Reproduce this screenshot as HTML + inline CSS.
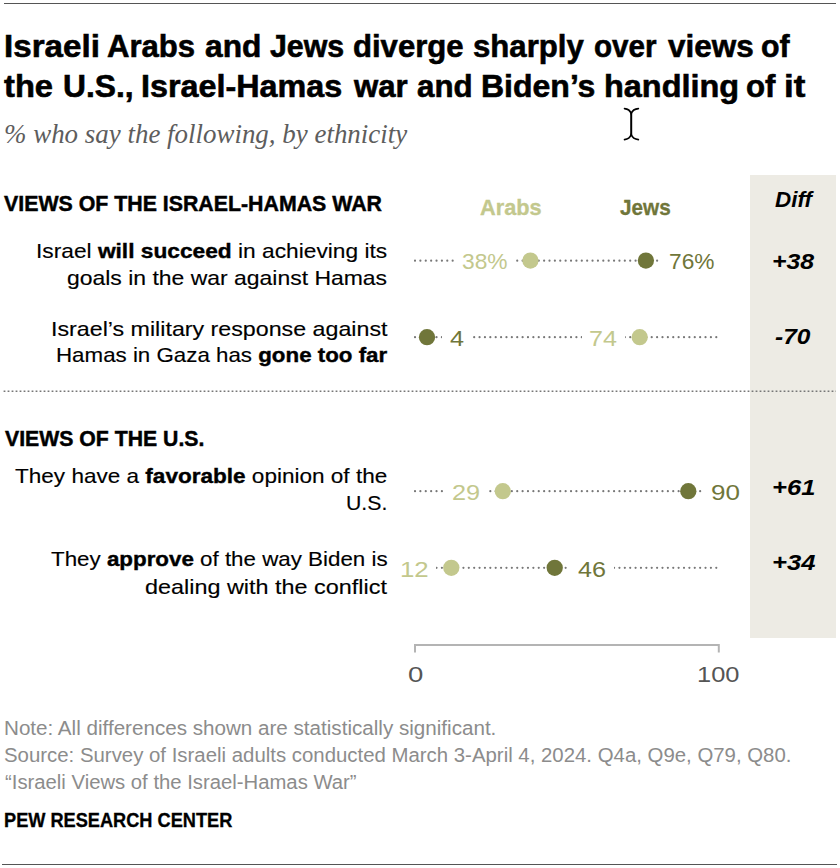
<!DOCTYPE html>
<html>
<head>
<meta charset="utf-8">
<title>Israeli Arabs and Jews diverge sharply</title>
<style>
html,body{margin:0;padding:0;background:#fff;}
body{width:840px;height:868px;position:relative;overflow:hidden;font-family:"Liberation Sans",sans-serif;color:#000;}
.t{position:absolute;white-space:nowrap;line-height:1;transform-origin:0 0;}
.rule{position:absolute;height:1px;background:#555;}
.title{font-weight:bold;-webkit-text-stroke:0.6px #000;}
.sub{font-family:"Liberation Serif",serif;font-style:italic;color:#5d5d5d;}
.sec{font-weight:bold;-webkit-text-stroke:0.45px #000;}
.diff{font-weight:bold;font-style:italic;}
.panel{position:absolute;left:750px;top:175px;width:86px;height:463px;background:#edebe4;}
.note{color:#8c8c8c;}
.pew{font-weight:bold;-webkit-text-stroke:0.3px #000;}
.lab b{-webkit-text-stroke:0.4px #000;}
.lab{-webkit-text-stroke:0.15px #000;}
.ax{color:#555;}
.hd{font-weight:bold;-webkit-text-stroke:0.3px currentColor;}
.ar{color:#c3c88d;}
.jw{color:#70763a;}
.bg{position:absolute;background:#fff;}
svg{position:absolute;left:0;top:0;}
</style>
</head>
<body>
<div class="rule" style="top:3px;left:4px;width:832.4px"></div>
<div class="rule" style="top:864px;left:2px;width:835px"></div>
<div class="panel"></div>
<svg width="840" height="868" viewBox="0 0 840 868">
  <line x1="3.6" y1="391.2" x2="836" y2="391.2" stroke="#777" stroke-width="1.6" stroke-dasharray="1.8 2.2"/>
  <g stroke="#787878" stroke-width="2.2" stroke-linecap="round" stroke-dasharray="0.01 5.37">
    <line x1="415" y1="260.7" x2="719" y2="260.7"/>
    <line x1="415" y1="337.2" x2="719" y2="337.2"/>
    <line x1="415" y1="491.2" x2="719" y2="491.2"/>
    <line x1="415" y1="567.8" x2="719" y2="567.8"/>
  </g>
  <path d="M415 652.5V645H718.8V652.5" fill="none" stroke="#b4b4b4" stroke-width="2"/>
</svg>
<div class="bg" style="left:456.0px;top:253.7px;width:58.0px;height:14px"></div>
<div class="bg" style="left:660.0px;top:253.7px;width:62.0px;height:14px"></div>
<div class="bg" style="left:442.3px;top:330.2px;width:29.7px;height:14px"></div>
<div class="bg" style="left:582.0px;top:330.2px;width:42.5px;height:14px"></div>
<div class="bg" style="left:445.0px;top:484.2px;width:42.5px;height:14px"></div>
<div class="bg" style="left:703.0px;top:484.2px;width:42.0px;height:14px"></div>
<div class="bg" style="left:395.0px;top:560.8px;width:41.3px;height:14px"></div>
<div class="bg" style="left:569.0px;top:560.8px;width:45.0px;height:14px"></div>
<svg width="840" height="868" viewBox="0 0 840 868">
  <circle cx="530.4" cy="260.6" r="8.15" fill="#c3c88d"/>
  <circle cx="645.9" cy="260.6" r="8.15" fill="#70763a"/>
  <circle cx="427.0" cy="337.2" r="8.15" fill="#70763a"/>
  <circle cx="639.7" cy="337.2" r="8.15" fill="#c3c88d"/>
  <circle cx="502.8" cy="491.2" r="8.15" fill="#c3c88d"/>
  <circle cx="688.3" cy="491.2" r="8.15" fill="#70763a"/>
  <circle cx="451.3" cy="567.8" r="8.15" fill="#c3c88d"/>
  <circle cx="554.7" cy="567.8" r="8.15" fill="#70763a"/>
</svg>
<div class="t title" id="t1w0" style="left:3.95px;top:29.81px;font-size:32px;transform:scaleX(1.0363);">Israeli</div>
<div class="t title" id="t1w1" style="left:107.01px;top:29.81px;font-size:32px;transform:scaleX(0.9720);">Arabs</div>
<div class="t title" id="t1w2" style="left:205.00px;top:29.82px;font-size:32px;transform:scaleX(0.9910);">and</div>
<div class="t title" id="t1w3" style="left:270.00px;top:29.81px;font-size:32px;transform:scaleX(0.9481);">Jews</div>
<div class="t title" id="t1w4" style="left:353.02px;top:29.81px;font-size:32px;transform:scaleX(0.9713);">diverge</div>
<div class="t title" id="t1w5" style="left:473.01px;top:29.81px;font-size:32px;transform:scaleX(0.9738);">sharply</div>
<div class="t title" id="t1w6" style="left:594.07px;top:29.81px;font-size:32px;transform:scaleX(0.9254);">over</div>
<div class="t title" id="t1w7" style="left:667.99px;top:29.80px;font-size:32px;transform:scaleX(0.9829);">views</div>
<div class="t title" id="t1w8" style="left:761.04px;top:29.81px;font-size:32px;transform:scaleX(0.9468);">of</div>
<div class="t title" id="t2w0" style="left:4.00px;top:69.81px;font-size:32px;transform:scaleX(1.0213);">the</div>
<div class="t title" id="t2w1" style="left:63.01px;top:69.81px;font-size:32px;transform:scaleX(0.9927);">U.S.,</div>
<div class="t title" id="t2w2" style="left:140.98px;top:69.82px;font-size:32px;transform:scaleX(1.0102);">Israel-Hamas</div>
<div class="t title" id="t2w3" style="left:353.97px;top:69.81px;font-size:32px;transform:scaleX(0.9733);">war</div>
<div class="t title" id="t2w4" style="left:417.00px;top:69.81px;font-size:32px;transform:scaleX(0.9774);">and</div>
<div class="t title" id="t2w5" style="left:481.00px;top:69.81px;font-size:32px;">Biden’s</div>
<div class="t title" id="t2w6" style="left:603.98px;top:69.82px;font-size:32px;transform:scaleX(1.0135);">handling</div>
<div class="t title" id="t2w7" style="left:745.99px;top:69.81px;font-size:32px;transform:scaleX(0.9755);">of</div>
<div class="t title" id="t2w8" style="left:783.86px;top:69.81px;font-size:32px;transform:scaleX(1.0924);">it</div>
<div class="t sub" id="sub" style="left:4.00px;top:120.95px;font-size:27px;transform:scaleX(0.9975);">% who say the following, by ethnicity</div>
<div class="t sec" id="s1" style="left:4.00px;top:193.74px;font-size:21.5px;transform:scaleX(0.9921);">VIEWS OF THE ISRAEL-HAMAS WAR</div>
<div class="t sec" id="s2" style="left:4.99px;top:429.49px;font-size:21.5px;transform:scaleX(0.9876);">VIEWS OF THE U.S.</div>
<div class="t lab" id="l1a" style="left:35.88px;top:240.40px;font-size:21px;transform:scaleX(1.0820);">Israel <b>will succeed</b> in achieving its</div>
<div class="t lab" id="l1b" style="left:66.91px;top:266.65px;font-size:21px;transform:scaleX(1.0924);">goals in the war against Hamas</div>
<div class="t lab" id="l2a" style="left:50.79px;top:317.65px;font-size:21px;transform:scaleX(1.1060);">Israel’s military response against</div>
<div class="t lab" id="l2b" style="left:55.90px;top:344.15px;font-size:21px;transform:scaleX(1.0629);">Hamas in Gaza has <b>gone too far</b></div>
<div class="t lab" id="l3a" style="left:14.96px;top:465.15px;font-size:21px;transform:scaleX(1.0736);">They have a <b>favorable</b> opinion of the</div>
<div class="t lab" id="l3b" style="left:345.99px;top:492.15px;font-size:21px;transform:scaleX(1.0106);">U.S.</div>
<div class="t lab" id="l4a" style="left:51.02px;top:547.90px;font-size:21px;transform:scaleX(1.0641);">They <b>approve</b> of the way Biden is</div>
<div class="t lab" id="l4b" style="left:144.97px;top:576.35px;font-size:21px;transform:scaleX(1.1141);">dealing with the conflict</div>
<div class="t hd ar" id="hA" style="left:480.00px;top:196.81px;font-size:22px;transform:scaleX(0.9880);">Arabs</div>
<div class="t hd jw" id="hJ" style="left:620.00px;top:196.81px;font-size:22px;transform:scaleX(0.9434);">Jews</div>
<div class="t v ar" id="v1a" style="left:462.17px;top:251.63px;font-size:21.5px;transform:scaleX(1.0599);">38%</div>
<div class="t v jw" id="v1j" style="left:668.71px;top:251.63px;font-size:21.5px;transform:scaleX(1.0565);">76%</div>
<div class="t v jw" id="v2j" style="left:450.19px;top:328.53px;font-size:21.5px;transform:scaleX(1.1736);">4</div>
<div class="t v ar" id="v2a" style="left:588.83px;top:328.53px;font-size:21.5px;transform:scaleX(1.1700);">74</div>
<div class="t v ar" id="v3a" style="left:452.12px;top:482.73px;font-size:21.5px;transform:scaleX(1.1757);">29</div>
<div class="t v jw" id="v3j" style="left:710.79px;top:482.73px;font-size:21.5px;transform:scaleX(1.2099);">90</div>
<div class="t v ar" id="v4a" style="left:399.77px;top:559.83px;font-size:21.5px;transform:scaleX(1.2009);">12</div>
<div class="t v jw" id="v4j" style="left:578.00px;top:559.83px;font-size:21.5px;transform:scaleX(1.1701);">46</div>
<div class="t diff" id="d0" style="left:775.00px;top:188.58px;font-size:22.5px;transform:scaleX(0.9951);">Diff</div>
<div class="t diff" id="d1" style="left:771.90px;top:250.68px;font-size:22.5px;transform:scaleX(1.1030);">+38</div>
<div class="t diff" id="d2" style="left:775.17px;top:325.98px;font-size:22.5px;transform:scaleX(1.0878);">-70</div>
<div class="t diff" id="d3" style="left:772.27px;top:477.28px;font-size:22.5px;transform:scaleX(1.1364);">+61</div>
<div class="t diff" id="d4" style="left:772.28px;top:552.28px;font-size:22.5px;transform:scaleX(1.1381);">+34</div>
<div class="t ax" id="a0" style="left:407.69px;top:664.53px;font-size:21.5px;transform:scaleX(1.2803);">0</div>
<div class="t ax" id="a1" style="left:697.47px;top:664.53px;font-size:21.5px;transform:scaleX(1.1826);">100</div>
<div class="t note" id="n1" style="left:3.94px;top:719.42px;font-size:19.5px;transform:scaleX(1.0572);">Note: All differences shown are statistically significant.</div>
<div class="t note" id="n2" style="left:3.93px;top:746.42px;font-size:19.5px;transform:scaleX(1.0453);">Source: Survey of Israeli adults conducted March 3-April 4, 2024. Q4a, Q9e, Q79, Q80.</div>
<div class="t note" id="n3" style="left:5.00px;top:772.67px;font-size:19.5px;transform:scaleX(1.0399);">“Israeli Views of the Israel-Hamas War”</div>
<div class="t pew" id="pew" style="left:4.03px;top:811.44px;font-size:19.5px;transform:scaleX(0.9324);">PEW RESEARCH CENTER</div>
<svg width="840" height="868" viewBox="0 0 840 868" style="pointer-events:none">
  <path d="M624.5 108.6Q629.6 109 631.2 113.6Q632.8 109 638.4 108.6M624.5 139.6Q629.6 139.2 631.2 134.6Q632.8 139.2 638.4 139.6" fill="none" stroke="#000" stroke-width="1.6" stroke-linecap="round"/>
  <path d="M631.2 112.6V135.6" fill="none" stroke="#000" stroke-width="2"/>
</svg>
</body>
</html>
